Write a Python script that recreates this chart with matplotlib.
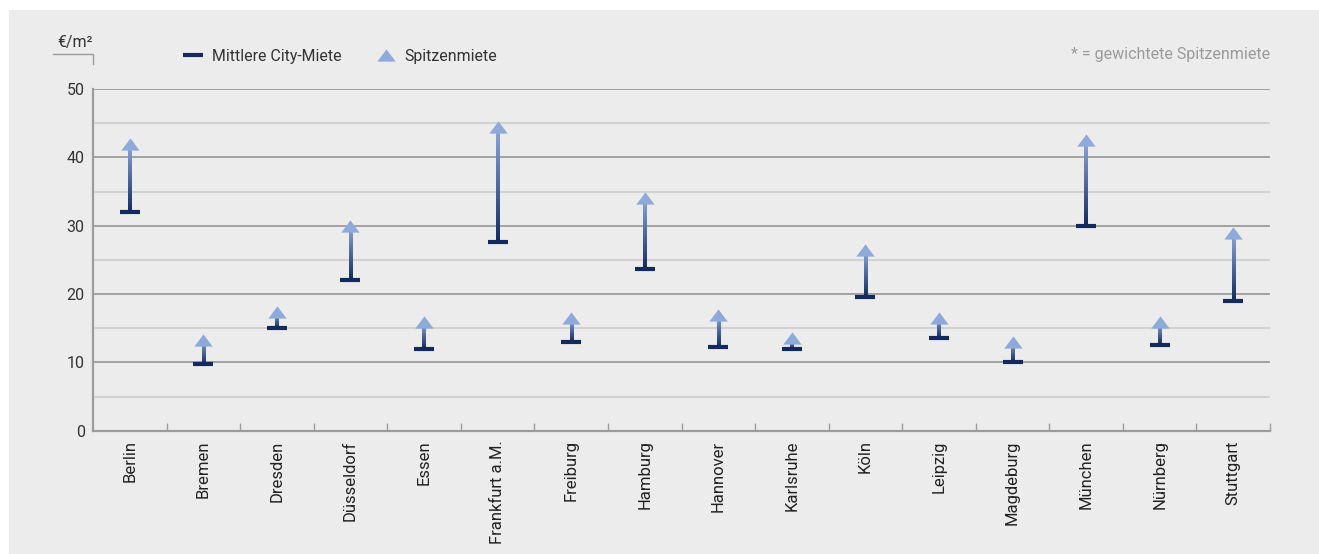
import numpy as np
import matplotlib
matplotlib.use("Agg")
import matplotlib.pyplot as plt
from matplotlib.colors import LinearSegmentedColormap
from matplotlib.lines import Line2D
from matplotlib.path import Path

plt.rcParams['font.family'] = ['Roboto', 'DejaVu Sans']

# Büromieten nach Stadt, €/m²
cities = ["Berlin", "Bremen", "Dresden", "Düsseldorf", "Essen", "Frankfurt a.M.",
          "Freiburg", "Hamburg", "Hannover", "Karlsruhe", "Köln", "Leipzig",
          "Magdeburg", "München", "Nürnberg", "Stuttgart"]
city_rent = [32.0, 9.7, 15.1, 22.0, 12.0, 27.6, 13.0, 23.6, 12.2, 12.0, 19.5, 13.5,
             10.0, 30.0, 12.6, 19.0]
top_rent = [42.0, 13.3, 17.4, 30.0, 15.9, 44.5, 16.5, 34.0, 17.0, 13.5, 26.5, 16.5,
            13.0, 42.5, 15.9, 29.0]

BG = '#ececec'
NAVY = '#142a5c'
LIGHT = '#8eaadb'
GRID_MAJOR = '#9c9c9c'
GRID_MINOR = '#d2d2d2'

fig = plt.figure(figsize=(13.19, 5.54), dpi=100)
fig.patch.set_facecolor('white')
fig.add_artist(plt.Rectangle((9 / 1319, 0), 1, 1 - 10 / 554, transform=fig.transFigure,
                             facecolor=BG, edgecolor='none', zorder=-10))

ax = fig.add_axes([93 / 1319, 123.3 / 554, (1270 - 93) / 1319, 341.7 / 554])
ax.set_facecolor(BG)

x = np.arange(len(cities))

# gradient shafts from city rent up to top rent
cmap = LinearSegmentedColormap.from_list('shaft', [NAVY, LIGHT])
grad = np.linspace(0, 1, 256).reshape(-1, 1)
half_w = 1.6 / 73.56
for xi, lo, hi in zip(x, city_rent, top_rent):
    ax.imshow(grad, cmap=cmap, origin='lower', aspect='auto', interpolation='bilinear',
              extent=[xi - half_w, xi + half_w, lo, hi], zorder=3)

tri = Path([(0, 0.667), (-1, -0.667), (1, -0.667), (0, 0.667)],
           [Path.MOVETO, Path.LINETO, Path.LINETO, Path.CLOSEPOLY])
ax.plot(x, top_rent, linestyle='none', marker=tri, markersize=13.2, color=LIGHT,
        markeredgewidth=0, zorder=4)
ax.plot(x, city_rent, linestyle='none', marker='_', markersize=13.7,
        markeredgewidth=3, color=NAVY, zorder=5)

ax.set_xlim(-0.5, len(cities) - 0.5)
ax.set_ylim(0, 50)

ax.set_yticks(np.arange(0, 51, 10))
ax.set_yticks(np.arange(5, 50, 10), minor=True)
ax.yaxis.grid(True, which='major', color=GRID_MAJOR, linewidth=1.3)
ax.yaxis.grid(True, which='minor', color=GRID_MINOR, linewidth=1.5)
ax.set_axisbelow(True)
ax.tick_params(axis='y', which='both', length=0, pad=6, labelsize=11.5,
               labelcolor='#333333')

ax.set_xticks(x)
ax.set_xticklabels(cities, rotation=90, va='top', ha='center')
ax.set_xticks(x + 0.5, minor=True)
ax.tick_params(axis='x', which='major', length=0, pad=7, labelsize=12,
               labelcolor='#222222')
ax.tick_params(axis='x', which='minor', direction='in', length=5.8, width=1,
               color=GRID_MAJOR)

for side in ('top', 'right'):
    ax.spines[side].set_visible(False)
for side in ('left', 'bottom'):
    ax.spines[side].set_color(GRID_MAJOR)
    ax.spines[side].set_linewidth(1.6)

# unit label with small bracket
fig.text(75 / 1319, 1 - 42 / 554, '€/m²', ha='center', va='center', fontsize=11.5,
         color='#333333')
fig.add_artist(Line2D([53 / 1319, 93 / 1319, 93 / 1319],
                      [1 - 54 / 554, 1 - 54 / 554, 1 - 64 / 554],
                      transform=fig.transFigure, color=GRID_MAJOR, linewidth=1))

handles = [Line2D([], [], linestyle='none', marker='_', markersize=13.7,
                  markeredgewidth=3, color=NAVY),
           Line2D([], [], linestyle='none', marker=tri, markersize=13.2,
                  markeredgewidth=0, color=LIGHT)]
fig.legend(handles, ['Mittlere City-Miete', 'Spitzenmiete'], loc='center left',
           bbox_to_anchor=(169 / 1319, 1 - 56 / 554), ncol=2, frameon=False,
           fontsize=11.4, handlelength=1.2, handletextpad=0.6, columnspacing=2.2,
           labelcolor='#333333')

fig.text(1270 / 1319, 1 - 55 / 554, '* = gewichtete Spitzenmiete', ha='right',
         va='center', fontsize=11.5, color='#9a9a9a')

fig.savefig('out.png', dpi=100, facecolor=fig.get_facecolor())
